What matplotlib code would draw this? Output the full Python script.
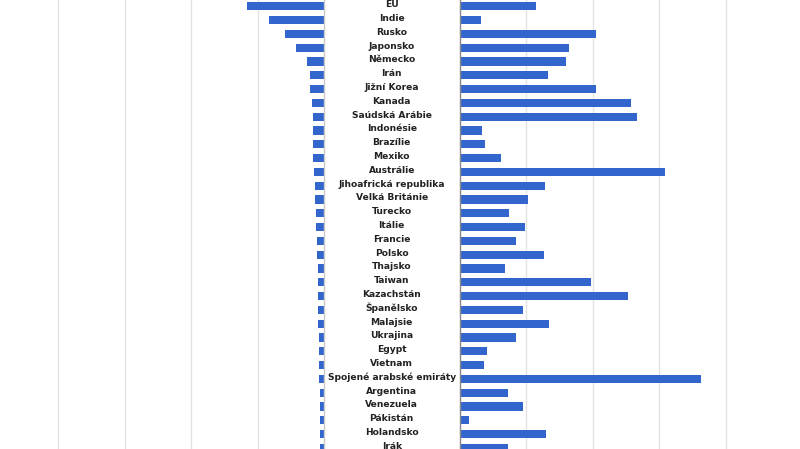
import matplotlib
matplotlib.use("Agg")
import matplotlib.pyplot as plt

countries = ["EU", "Indie", "Rusko", "Japonsko", "Německo", "Irán", "Jižní Korea",
             "Kanada", "Saúdská Arábie", "Indonésie", "Brazílie", "Mexiko", "Austrálie",
             "Jihoafrická republika", "Velká Británie", "Turecko", "Itálie", "Francie",
             "Polsko", "Thajsko", "Taiwan", "Kazachstán", "Španělsko", "Malajsie",
             "Ukrajina", "Egypt", "Vietnam", "Spojené arabské emiráty", "Argentina",
             "Venezuela", "Pákistán", "Holandsko", "Irák"]

total = [3455, 2463, 1759, 1263, 780, 632, 632, 555, 510, 510, 478, 478, 451,
         420, 406, 361, 343, 316, 307, 293, 284, 280, 271, 257, 248, 239, 226,
         216, 203, 194, 189, 180, 171]

per_capita = [5.72, 1.58, 10.24, 8.23, 7.98, 6.65, 10.24, 12.92, 13.35, 1.66, 1.90,
              3.09, 15.48, 6.40, 5.14, 3.74, 4.94, 4.26, 6.33, 3.41, 9.91, 12.67,
              4.77, 6.72, 4.26, 2.08, 1.83, 18.17, 3.66, 4.77, 0.75, 6.48, 3.66]

left_ticks = [3000, 6000, 9000, 12000]
right_ticks = [5, 10, 15, 20]

W, H = 800, 449
fig = plt.figure(figsize=(W / 100, H / 100), dpi=100)

bar_color = "#3366cc"
grid_color = "#e3e3e3"
y = list(range(len(countries)))
ylim = ((449 - 6.3) / 13.8, -6.3 / 13.8)

axL = fig.add_axes([58 / W, 0, 266 / W, 1])
axM = fig.add_axes([324 / W, 0, 135.5 / W, 1])
axR = fig.add_axes([459.5 / W, 0, 266 / W, 1])

for ax in (axL, axM, axR):
    ax.set_ylim(*ylim)
    ax.set_facecolor("none")
    for s in ax.spines.values():
        s.set_visible(False)
    ax.set_xticks([])
    ax.set_yticks([])

axL.set_xlim(12000, 0)
for t in left_ticks:
    axL.axvline(t, color=grid_color, lw=1, clip_on=False, zorder=0)
axL.barh(y, total, height=0.58, color=bar_color, zorder=2)
axL.axvline(0, color="#c8c8c8", lw=1, clip_on=False, zorder=3)

axR.set_xlim(0, 20)
for t in right_ticks:
    axR.axvline(t, color=grid_color, lw=1, clip_on=False, zorder=0)
axR.barh(y, per_capita, height=0.58, color=bar_color, zorder=2)
axR.axvline(0, color="#888888", lw=1, clip_on=False, zorder=3)

axM.set_xlim(0, 1)
for i, name in enumerate(countries):
    axM.text(0.5, i - 0.12, name, ha="center", va="center", fontsize=6.6,
             fontweight="bold", color="#222222", family="DejaVu Sans")

fig.savefig("out.png", dpi=100)
